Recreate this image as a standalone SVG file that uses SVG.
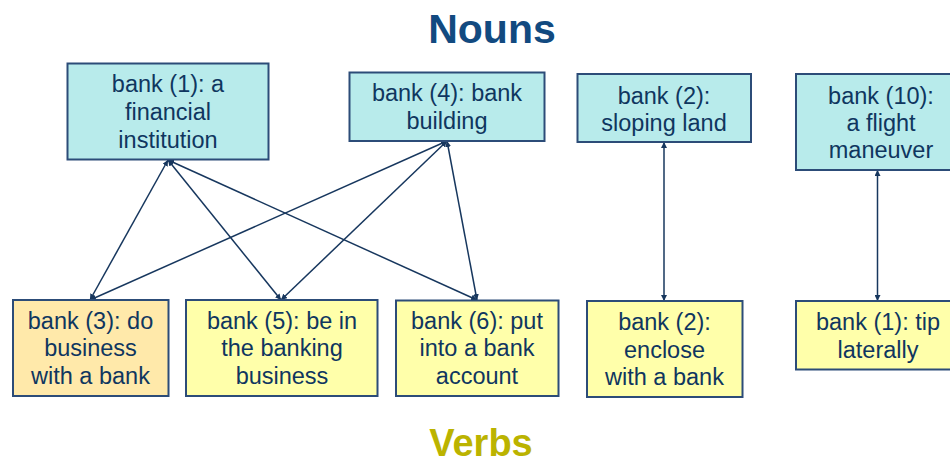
<svg xmlns="http://www.w3.org/2000/svg" width="950" height="465" viewBox="0 0 950 465">
  <style>
    .box { stroke: #2c4c78; stroke-width: 2; }
    .noun { fill: #b8ebeb; }
    .verb { fill: #ffffaa; }
    .verb-hl { fill: #ffe9aa; }
    .lbl { font-family: "Liberation Sans", Arial, sans-serif; font-size: 23.5px; fill: #0f365f; text-anchor: middle; }
    .title { font-family: "Liberation Sans", Arial, sans-serif; font-weight: bold; text-anchor: middle; }
    .link { stroke: #17375e; stroke-width: 1.5; fill: none; marker-start: url(#tip); marker-end: url(#tip); }
  </style>
  <defs>
    <marker id="tip" viewBox="0 0 10 10" refX="10" refY="5" markerWidth="6" markerHeight="6" markerUnits="userSpaceOnUse" orient="auto-start-reverse">
      <path d="M0,0 L10,5 L0,10 Z" fill="#17375e"/>
    </marker>
  </defs>

  <rect width="950" height="465" fill="#ffffff"/>

  <text class="title" x="492" y="43" font-size="41" fill="#124a80">Nouns</text>
  <text class="title" x="481" y="456" font-size="38" fill="#bbb300">Verbs</text>

  <!-- connectors -->
  <g id="connectors">
    <line class="link" x1="168" y1="160" x2="90" y2="300"/>
    <line class="link" x1="168" y1="160" x2="281" y2="300"/>
    <line class="link" x1="168" y1="160" x2="477" y2="300"/>
    <line class="link" x1="447" y1="141" x2="90" y2="300"/>
    <line class="link" x1="447" y1="141" x2="281" y2="300"/>
    <line class="link" x1="447" y1="141" x2="477" y2="300"/>
    <line class="link" x1="664" y1="142" x2="664" y2="301"/>
    <line class="link" x1="877.5" y1="170" x2="877.5" y2="301"/>
  </g>

  <!-- noun senses -->
  <g id="noun-bank1">
    <rect class="box noun" x="67.5" y="63.5" width="201" height="96"/>
    <text class="lbl" x="168" y="92">bank (1): a</text>
    <text class="lbl" x="168" y="120">financial</text>
    <text class="lbl" x="168" y="147.5">institution</text>
  </g>
  <g id="noun-bank4">
    <rect class="box noun" x="349.5" y="72.5" width="195" height="68.5"/>
    <text class="lbl" x="447" y="101">bank (4): bank</text>
    <text class="lbl" x="447" y="128.5">building</text>
  </g>
  <g id="noun-bank2">
    <rect class="box noun" x="577.5" y="74" width="173.5" height="68"/>
    <text class="lbl" x="664" y="104">bank (2):</text>
    <text class="lbl" x="664" y="131">sloping land</text>
  </g>
  <g id="noun-bank10">
    <rect class="box noun" x="796" y="74" width="171" height="96"/>
    <text class="lbl" x="881" y="104">bank (10):</text>
    <text class="lbl" x="881" y="131">a flight</text>
    <text class="lbl" x="881" y="157.5">maneuver</text>
  </g>

  <!-- verb senses -->
  <g id="verb-bank3">
    <rect class="box verb-hl" x="13" y="300" width="155.5" height="96"/>
    <text class="lbl" x="90.5" y="328.5">bank (3): do</text>
    <text class="lbl" x="90.5" y="356">business</text>
    <text class="lbl" x="90.5" y="383.5">with a bank</text>
  </g>
  <g id="verb-bank5">
    <rect class="box verb" x="186" y="300" width="191.5" height="96"/>
    <text class="lbl" x="282" y="328.5">bank (5): be in</text>
    <text class="lbl" x="282" y="356">the banking</text>
    <text class="lbl" x="282" y="383.5">business</text>
  </g>
  <g id="verb-bank6">
    <rect class="box verb" x="396" y="300.5" width="162.5" height="95.5"/>
    <text class="lbl" x="477" y="328.5">bank (6): put</text>
    <text class="lbl" x="477" y="356">into a bank</text>
    <text class="lbl" x="477" y="383.5">account</text>
  </g>
  <g id="verb-bank2">
    <rect class="box verb" x="587" y="301" width="155.5" height="96"/>
    <text class="lbl" x="664.5" y="330">bank (2):</text>
    <text class="lbl" x="664.5" y="357.5">enclose</text>
    <text class="lbl" x="664.5" y="385">with a bank</text>
  </g>
  <g id="verb-bank1">
    <rect class="box verb" x="796" y="301" width="164" height="68.5"/>
    <text class="lbl" x="878" y="330">bank (1): tip</text>
    <text class="lbl" x="878" y="357.5">laterally</text>
  </g>
</svg>
